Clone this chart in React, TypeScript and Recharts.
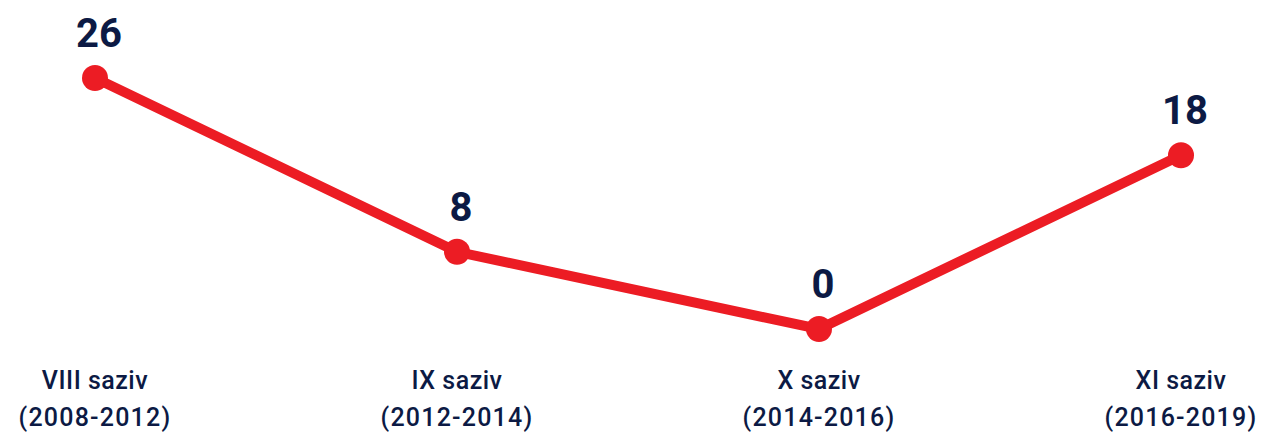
import React from "react";
import { LineChart, Line, XAxis, YAxis, LabelList } from "recharts";

const sazivi = ["VIII saziv", "IX saziv", "X saziv", "XI saziv"];
const periods = ["(2008-2012)", "(2012-2014)", "(2014-2016)", "(2016-2019)"];
const counts = [26, 8, 0, 18];

const data = sazivi.map((s, i) => ({ name: s, period: periods[i], value: counts[i] }));

const RED = "#ec1c24";
const NAVY = "#0c1a44";
const FONT = "Roboto, 'Noto Sans', sans-serif";

const SazivTick = (props: any) => {
  const { x, y, payload } = props;
  const idx = sazivi.indexOf(payload.value);
  return (
    <g>
      <text x={x} y={y + 52} textAnchor="middle" fill={NAVY} fontSize={25}
        fontFamily={FONT} fontWeight={500} letterSpacing={0.5}>
        {payload.value}
      </text>
      <text x={x} y={y + 89} textAnchor="middle" fill={NAVY} fontSize={25}
        fontFamily={FONT} fontWeight={500} letterSpacing={1.2}>
        {periods[idx]}
      </text>
    </g>
  );
};

const ValueLabel = (props: any) => {
  const { x, y, value } = props;
  return (
    <text x={x + 4} y={y - 31} textAnchor="middle" fill={NAVY} fontSize={40}
      fontFamily={FONT} fontWeight={700}>
      {value}
    </text>
  );
};

const App: React.FC = () => {
  return (
    <div style={{ position: "absolute", left: 0, top: 0 }}>
      <LineChart
        width={1261}
        height={432}
        data={data}
        margin={{ top: 78, right: 80, left: 95, bottom: 0 }}
      >
        <XAxis
          dataKey="name"
          axisLine={false}
          tickLine={false}
          height={103}
          interval={0}
          tick={<SazivTick />}
        />
        <YAxis hide domain={[0, 26]} />
        <Line
          type="linear"
          dataKey="value"
          stroke={RED}
          strokeWidth={10}
          dot={{ r: 13, fill: RED, stroke: RED, strokeWidth: 0 }}
          activeDot={false}
          isAnimationActive={false}
        >
          <LabelList dataKey="value" content={<ValueLabel />} />
        </Line>
      </LineChart>
    </div>
  );
};

export default App;
